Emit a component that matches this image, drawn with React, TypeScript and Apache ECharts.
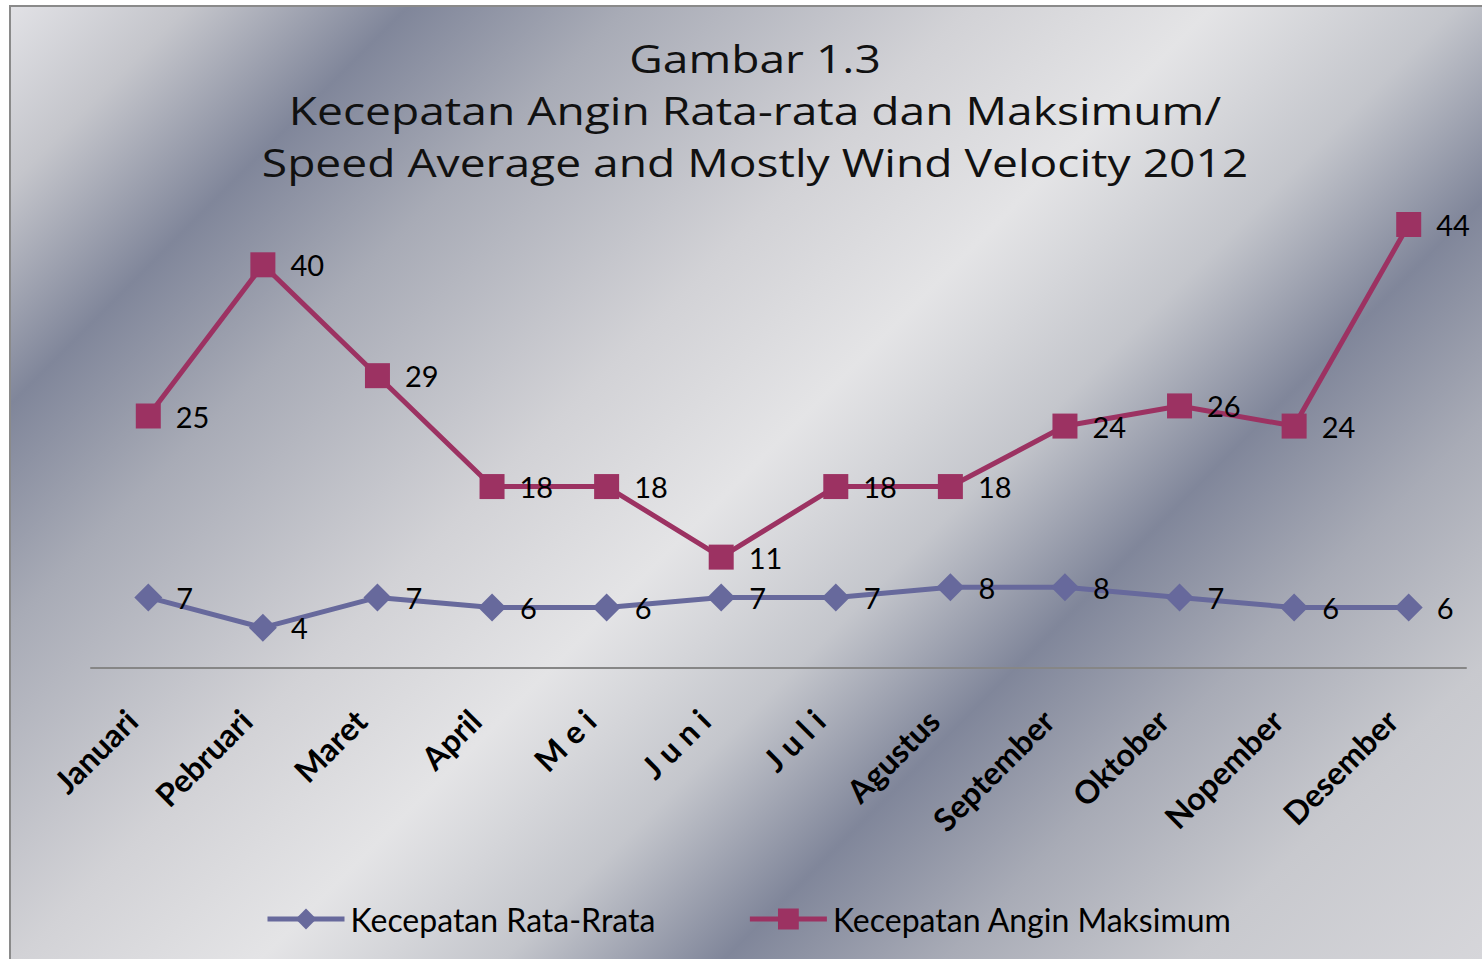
import React, { useEffect, useRef } from "react";
import * as echarts from "echarts";

const months = ["Januari", "Pebruari", "Maret", "April", "M e i", "J u n i", "J u l i", "Agustus", "September", "Oktober", "Nopember", "Desember"];
const avgSpeed = [7, 4, 7, 6, 6, 7, 7, 8, 8, 7, 6, 6];
const maxSpeed = [25, 40, 29, 18, 18, 11, 18, 18, 24, 26, 24, 44];
const titleLines = ["Gambar 1.3", "Kecepatan Angin Rata-rata dan Maksimum/", "Speed Average and Mostly Wind Velocity 2012"];
const seriesNames = ["Kecepatan Rata-Rrata", "Kecepatan Angin Maksimum"];

export default function App() {
  const ref = useRef<HTMLDivElement>(null);
  useEffect(() => {
    if (!ref.current) return;
    const chart = echarts.init(ref.current, null, { renderer: "svg" });
    const bg = {
      type: "linear",
      x: 0,
      y: 0,
      x2: 1220,
      y2: 1220,
      global: true,
      colorStops: [
        { offset: 0, color: "#e4e4e8" },
        { offset: 0.08, color: "#c4c5cb" },
        { offset: 0.17, color: "#80869a" },
        { offset: 0.26, color: "#a8abb6" },
        { offset: 0.4, color: "#d2d2d6" },
        { offset: 0.5, color: "#e4e4e6" },
        { offset: 0.6, color: "#c4c6cc" },
        { offset: 0.69, color: "#80869a" },
        { offset: 0.78, color: "#a8abb6" },
        { offset: 0.88, color: "#c8c9ce" },
        { offset: 1, color: "#d6d6da" },
      ],
    };
    const labelFont = { fontFamily: "Lato", fontSize: 29, color: "#000" };
    chart.setOption({
      animation: false,
      backgroundColor: "#ffffff",
      graphic: [
        {
          type: "rect",
          z: -100,
          silent: true,
          shape: { x: 10, y: 6, width: 1500, height: 980 },
          style: { fill: bg as any, stroke: "#8a8a8a", lineWidth: 2 },
        },
        {
          type: "text",
          z: 10,
          silent: true,
          x: 755,
          y: 32,
          scaleX: 1.215,
          style: {
            text: titleLines.join("\n"),
            textAlign: "center",
            textVerticalAlign: "top",
            fontFamily: "Open Sans",
            fontSize: 38,
            lineHeight: 52,
            fill: "#111",
          },
        },
      ],
      legend: {
        data: seriesNames,
        left: 260,
        top: 898,
        itemWidth: 77,
        itemHeight: 26,
        itemGap: 92,
        lineStyle: { width: 5 },
        textStyle: { fontFamily: "Lato", fontSize: 32, color: "#000", padding: [0, 0, 0, 1] },
      },
      grid: { left: 91, right: 16, top: 164, bottom: 291, containLabel: false },
      xAxis: {
        type: "category",
        data: months,
        boundaryGap: true,
        axisLine: { show: true, lineStyle: { color: "#868686", width: 2 } },
        axisTick: { show: false },
        axisLabel: {
          rotate: 45,
          interval: 0,
          margin: 30,
          padding: [0, 24, 0, 0],
          fontFamily: "Lato",
          fontWeight: "bold",
          fontSize: 32,
          color: "#000",
        },
      },
      yAxis: {
        type: "value",
        min: 0,
        max: 50,
        show: false,
        splitLine: { show: false },
      },
      series: [
        {
          name: seriesNames[0],
          type: "line",
          data: avgSpeed,
          symbol: "diamond",
          symbolSize: 28,
          lineStyle: { color: "#67699c", width: 5 },
          itemStyle: { color: "#67699c" },
          label: { show: true, position: "right", distance: 14, ...labelFont },
        },
        {
          name: seriesNames[1],
          type: "line",
          data: maxSpeed,
          symbol: "rect",
          symbolSize: 25,
          lineStyle: { color: "#9c3262", width: 5 },
          itemStyle: { color: "#9c3262" },
          label: { show: true, position: "right", distance: 15, ...labelFont },
        },
      ],
    });
    return () => chart.dispose();
  }, []);
  return <div ref={ref} style={{ position: "fixed", left: 0, top: 0, width: 1482, height: 959 }} />;
}
